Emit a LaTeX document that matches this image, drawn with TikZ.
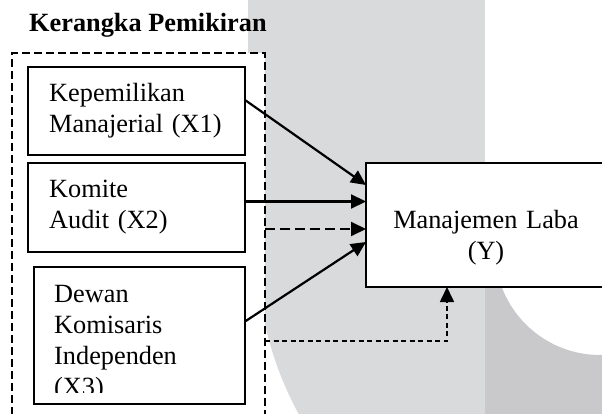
\documentclass[tikz,border=0pt]{standalone}
\usepackage{fontspec}
\setmainfont{Liberation Serif}
\usetikzlibrary{arrows.meta}
\definecolor{abuterang}{RGB}{217,218,220}
\definecolor{abugelap}{RGB}{201,201,204}

\begin{document}
\begin{tikzpicture}[x=1pt, y=-1pt,
    kotak/.style={draw=black, fill=white, line width=1.8pt, anchor=north west, inner sep=0pt, outer sep=0pt},
    teks/.style={font=\fontsize{26.3}{31}\selectfont, inner sep=0pt, text width=#1, align=left, anchor=base west},
    panah/.style={line width=2.2pt, -{Triangle[length=15pt,width=14pt]}}]
    \useasboundingbox (0,0) rectangle (602,414);
    \clip (0,0) rectangle (602,414);
    % 背景の透かし（灰色の帯）
    \fill[abuterang] (248,0) rectangle (485,250);
    \begin{scope}
        \clip (248,250) rectangle (485,414);
        \fill[abuterang] (600,250) circle (343pt);
    \end{scope}
    % 透かしのリング（右下）
    \begin{scope}
        \clip (485,250) rectangle (602,414);
        \fill[abugelap, even odd rule] (600,250) circle (343pt) (600,250) circle (105pt);
    \end{scope}
    % 点線の枠（白で塗る）
    \node[kotak, line width=1.7pt, dash pattern=on 8pt off 4pt, minimum width=253pt, minimum height=400pt] (bingkai) at (12,53) {};
    % タイトル
    \node[font=\fontsize{26.3}{31}\selectfont\bfseries, anchor=base west, inner sep=0pt] (judul) at (29,32) {Kerangka Pemikiran};
    % 変数のボックス
    \node[kotak, minimum width=217pt, minimum height=88pt] (kep) at (28,67) {};
    \node[kotak, minimum width=217pt, minimum height=89pt] (kom) at (28,163) {};
    \node[kotak, minimum width=211pt, minimum height=137pt] (dew) at (34,267) {};
    \node[kotak, minimum width=240pt, minimum height=124pt] (laba) at (366,163) {};
    % ボックスの文字
    \node[teks=180pt] (kept) at (49,102) {Kepemilikan\\Manajerial (X1)};
    \node[teks=180pt] (komt) at (49,197) {Komite\\Audit (X2)};
    \begin{scope}
        % 下の行は切れている
        \clip (dew.north west) rectangle ([yshift=12pt]dew.south east);
        \node[teks=180pt] (dewt) at (54,302) {Dewan\\Komisaris\\Independen\\(X3)};
    \end{scope}
    \node[teks=230pt, align=center, anchor=base] (labat) at (486,228) {Manajemen Laba\\(Y)};
    % 矢印
    \coordinate (d1) at (265,229);
    \coordinate (d2) at (265,341);
    \draw[panah] ([yshift=11pt]kep.east) -- ([yshift=40pt]laba.west);
    \draw[panah] ([yshift=6pt]kom.east) -- ([yshift=6pt]kom.east -| laba.west);
    \draw[panah, line width=2pt, dash pattern=on 10pt off 5pt] (d1) -- (d1 -| laba.west);
    \draw[panah] ([yshift=14pt]dew.east) -- ([yshift=-17pt]laba.west);
    \draw[panah, line width=1.6pt, dash pattern=on 5pt off 3.5pt] (d2) -| ([xshift=-39pt]laba.south);
\end{tikzpicture}
\end{document}
